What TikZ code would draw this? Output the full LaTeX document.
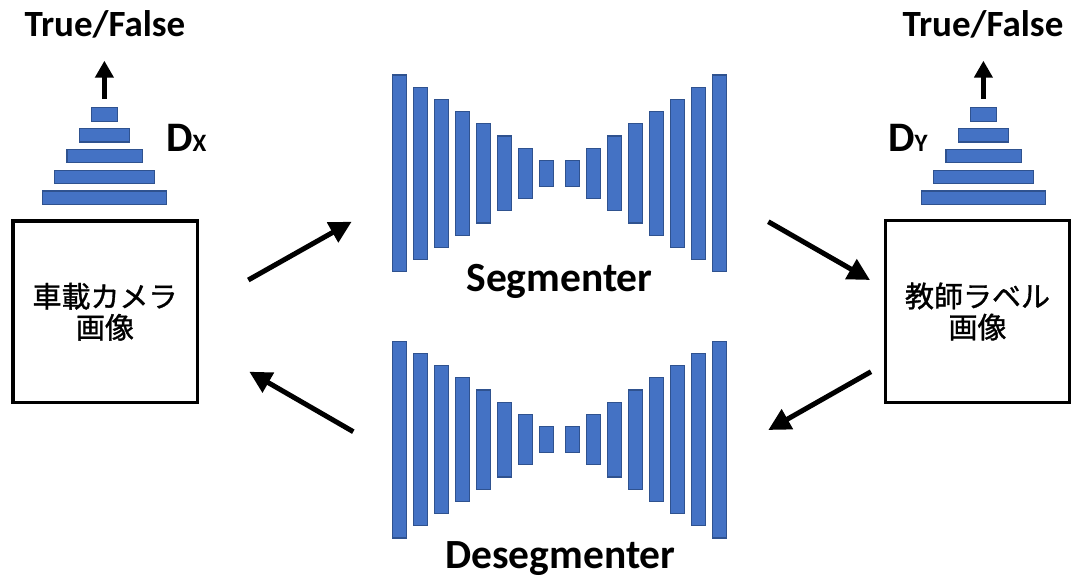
\documentclass[tikz,border=0pt]{standalone}
\usepackage{fontspec}
\setmainfont{Carlito}
\newfontfamily\jpfont[FakeBold=1.2]{Noto Sans CJK JP}
\usetikzlibrary{arrows.meta}
\definecolor{barblue}{HTML}{4472C4}
\definecolor{baredge}{HTML}{2F528F}
\tikzset{
  bar/.style={draw=baredge, fill=barblue, line width=1.2pt, inner sep=0pt, outer sep=0pt, rectangle},
  imgbox/.style={draw=black, line width=3.5pt, inner sep=0pt, minimum width=184.5pt, minimum height=181.5pt, align=center, font=\jpfont\fontsize{29}{31}\selectfont},
  flow/.style={line width=5pt, -{Triangle[length=22pt,width=22pt]}},
  upflow/.style={line width=5pt, -{Triangle[length=17pt,width=18pt]}},
  nettitle/.style={font=\bfseries\fontsize{41.5}{41.5}\selectfont, inner sep=0pt, anchor=base},
  tflabel/.style={font=\bfseries\fontsize{37}{37}\selectfont, inner sep=0pt, anchor=base},
  dlabel/.style={font=\bfseries\fontsize{42}{42}\selectfont, inner sep=0pt, anchor=base west},
}
\begin{document}
\begin{tikzpicture}[x=1pt,y=-1pt]
\useasboundingbox (0,0) rectangle (1071,577);

% encoder-decoder bars
\foreach \k in {0,...,7}{
  \pgfmathsetmacro\dx{13.2+21*\k}
  \pgfmathsetmacro\hh{26+24.4*\k}
  \node[bar, minimum width=14pt, minimum height=\hh pt] (segL\k) at (559.5-\dx,173.5) {};
  \node[bar, minimum width=14pt, minimum height=\hh pt] (segR\k) at (559.5+\dx,173.5) {};
  \node[bar, minimum width=14pt, minimum height=\hh pt] (desL\k) at (559.5-\dx,439.5) {};
  \node[bar, minimum width=14pt, minimum height=\hh pt] (desR\k) at (559.5+\dx,439.5) {};
}
\node[nettitle] (seg) at (559.5,291.7) {Segmenter};
\node[nettitle] (des) at (560.5,568.3) {Desegmenter};

% discriminator pyramids
\foreach \j in {0,...,4}{
  \pgfmathsetmacro\ww{26+24.6*\j}
  \node[bar, minimum width=\ww pt, minimum height=13.5pt] (pL\j) at (104.5,114.5+20.8*\j) {};
  \node[bar, minimum width=\ww pt, minimum height=13.5pt] (pR\j) at (983.5,114.5+20.8*\j) {};
}
\node[tflabel] (tfL) at (105,36.7) {True/False};
\node[tflabel] (tfR) at (983,36.7) {True/False};
\coordinate (upLs) at (104.4,99);
\coordinate (upLe) at (104.4,60.7);
\coordinate (upRs) at (983.4,99);
\coordinate (upRe) at (983.4,60.7);
\draw[upflow] (upLs) -- (upLe);
\draw[upflow] (upRs) -- (upRe);
\node[dlabel] (dx) at (166,151.7) {D\fontsize{25}{25}\selectfont X};
\node[dlabel] (dy) at (888,151.7) {D\fontsize{25}{25}\selectfont Y};

% image boxes
\node[imgbox] (cam) at (105,311.75) {車載カメラ\\画像};
\node[imgbox] (lab) at (977.5,311.5) {教師ラベル\\画像};

% flow arrows
\coordinate (a1s) at (248.3,280);
\coordinate (a1e) at (351.7,221.7);
\coordinate (a2s) at (353.3,431.7);
\coordinate (a2e) at (249.3,371.7);
\coordinate (a3s) at (768.3,221.7);
\coordinate (a3e) at (870,280);
\coordinate (a4s) at (871,371.7);
\coordinate (a4e) at (768.3,430);
\draw[flow] (a1s) -- (a1e);
\draw[flow] (a2s) -- (a2e);
\draw[flow] (a3s) -- (a3e);
\draw[flow] (a4s) -- (a4e);
\end{tikzpicture}
\end{document}
